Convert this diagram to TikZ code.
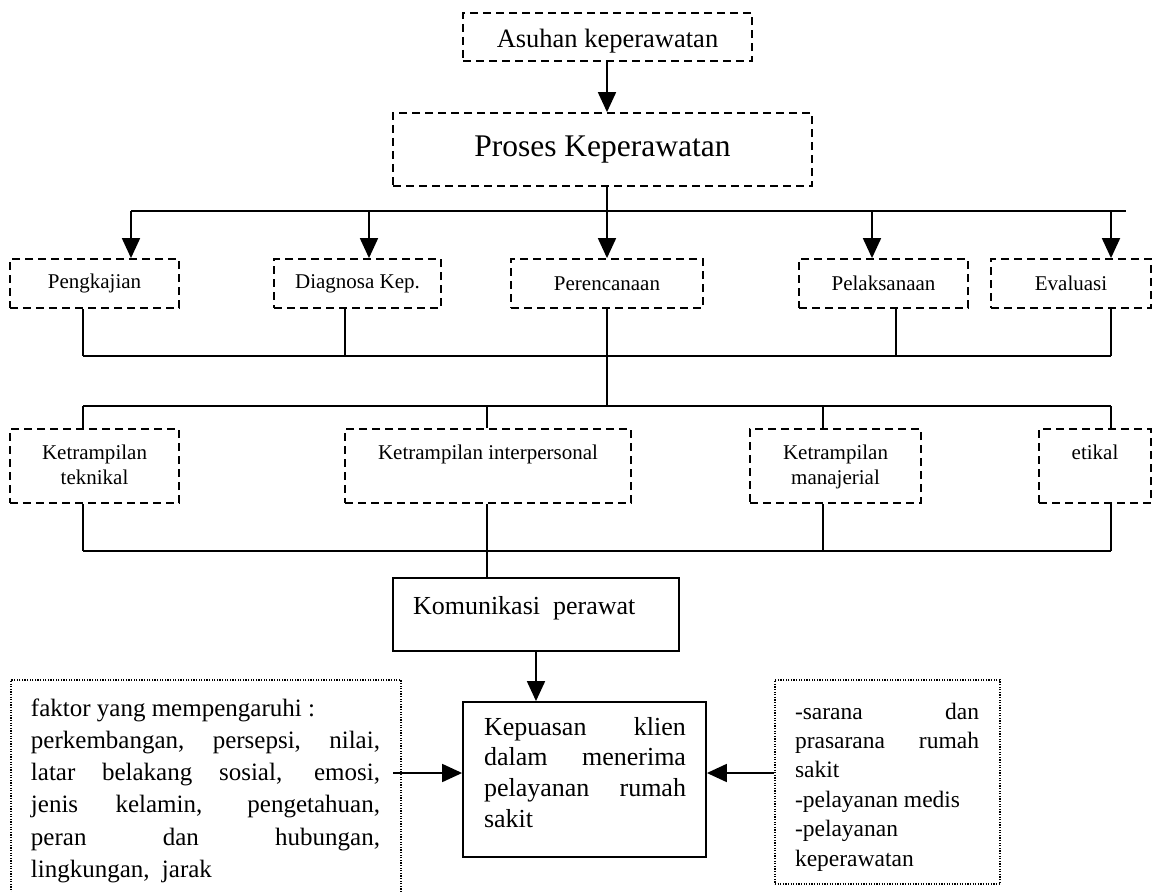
\documentclass[tikz,border=0pt]{standalone}
\usepackage{fontspec}
\setmainfont{Liberation Serif}
\usetikzlibrary{arrows.meta}
\newcommand{\inbox}[5]{\begin{minipage}[c][#2][t]{#1}\setlength{\leftskip}{#3}\rule{0pt}{#4}#5\end{minipage}}
\newcommand{\topc}[4]{\begin{minipage}[c][#2][t]{#1}\centering\rule{0pt}{#3}#4\end{minipage}}
\begin{document}
\begin{tikzpicture}[x=1bp,y=-1bp,
  ln/.style={line width=1.8bp},
  arr/.style={line width=1.8bp,-{Triangle[length=20bp,width=18bp]}},
  dbox/.style={draw,line width=1.8bp,dash pattern=on 8bp off 5bp,inner sep=0pt},
  sbox/.style={draw,line width=1.8bp,inner sep=0pt},
  obox/.style={draw,line width=1.3bp,dash pattern=on 1.2bp off 1.4bp,inner sep=0pt},
  rowf/.style={font=\fontsize{21bp}{25bp}\selectfont},
]
\fill[white] (0,0) rectangle (1155,892);
\clip (0,0) rectangle (1155,892);

% top boxes
\node[dbox,minimum width=289bp,minimum height=48bp,text height=26bp,text depth=6bp,font=\fontsize{26.5bp}{30bp}\selectfont] (asu) at (607.5,37) {Asuhan keperawatan};
\node[dbox,minimum width=419bp,minimum height=73bp,font=\fontsize{31.5bp}{36bp}\selectfont] (pro) at (602.5,149.5) {Proses Keperawatan};

% row 1
\node[dbox,rowf,minimum width=169bp,minimum height=49bp] (pen) at (94.5,283.5) {Pengkajian};
\node[dbox,rowf,minimum width=167bp,minimum height=49bp] (dia) at (357.5,283.5) {Diagnosa Kep.};
\node[dbox,rowf,minimum width=192bp,minimum height=49bp] (per) at (607,283.5) {Perencanaan};
\node[dbox,rowf,minimum width=169bp,minimum height=49bp] (pel) at (883.5,283.5) {Pelaksanaan};
\node[dbox,rowf,minimum width=160bp,minimum height=49bp] (eva) at (1071,283.5) {Evaluasi};

% row 2
\node[dbox,rowf] (tek) at (94.5,466) {\topc{169bp}{74bp}{30bp}{Ketrampilan\\teknikal}};
\node[dbox,rowf] (int) at (488,466) {\topc{286bp}{74bp}{30bp}{Ketrampilan interpersonal}};
\node[dbox,rowf] (man) at (835.5,466) {\topc{171bp}{74bp}{30bp}{Ketrampilan\\manajerial}};
\node[dbox,rowf] (eti) at (1095,466) {\topc{112bp}{74bp}{30bp}{etikal}};

% bottom boxes
\node[sbox,font=\fontsize{26bp}{30bp}\selectfont] (kom) at (536,614.5)
  {\inbox{286bp}{73bp}{20bp}{36bp}{Komunikasi\ \ perawat}};
\node[sbox,font=\fontsize{26bp}{30.7bp}\selectfont] (kep) at (584.5,779.5)
  {\inbox{243bp}{155bp}{21bp}{33bp}{\makebox[202bp][s]{Kepuasan klien}\\
   \makebox[202bp][s]{dalam menerima}\\
   \makebox[202bp][s]{pelayanan rumah}\\
   sakit}};
\node[obox,font=\fontsize{25bp}{32.3bp}\selectfont] (fak) at (206,790)
  {\inbox{390bp}{220bp}{20bp}{36bp}{faktor yang mempengaruhi :\\
   \makebox[349bp][s]{perkembangan, persepsi, nilai,}\\
   \makebox[349bp][s]{latar belakang sosial, emosi,}\\
   \makebox[349bp][s]{jenis kelamin, pengetahuan,}\\
   \makebox[349bp][s]{peran dan hubungan,}\\
   lingkungan,\hspace{6bp} jarak}};
\node[obox,font=\fontsize{23.5bp}{29.4bp}\selectfont] (sar) at (887.5,782)
  {\inbox{225bp}{204bp}{20bp}{39bp}{\makebox[184bp][s]{-sarana dan}\\
   \makebox[184bp][s]{prasarana rumah}\\
   sakit\\
   -pelayanan medis\\
   -pelayanan\\
   keperawatan}};

% coordinates of connector lines
\coordinate (t1) at (131,211); \coordinate (t2) at (369,211);
\coordinate (t3) at (607,211); \coordinate (t4) at (872,211);
\coordinate (t5) at (1111,211); \coordinate (tR) at (1126,211);
\coordinate (b1) at (83,356); \coordinate (b2) at (345,356);
\coordinate (b3) at (607,356); \coordinate (b4) at (896,356);
\coordinate (b5) at (1111,356);
\coordinate (c0) at (607,406);
\coordinate (c1) at (83,406); \coordinate (c2) at (487,406);
\coordinate (c3) at (823,406); \coordinate (c4) at (1111,406);
\coordinate (d1) at (83,551); \coordinate (d2) at (487,551);
\coordinate (d3) at (823,551); \coordinate (d4) at (1111,551);
\coordinate (la) at (393,773);

% connectors
\draw[arr] (asu.south -| t3) -- (pro.north -| t3);
\draw[ln] (pro.south -| t3) -- (t3);
\draw[ln] (t1) -- (tR);
\foreach \i/\n in {1/pen,2/dia,3/per,4/pel,5/eva}{
  \draw[arr] (t\i) -- (t\i |- \n.north);
  \draw[ln] (b\i |- \n.south) -- (b\i);
}
\draw[ln] (b1) -- (b5);
\draw[ln] (b3) -- (c0);
\draw[ln] (c1) -- (c4);
\foreach \i/\n in {1/tek,2/int,3/man,4/eti}{
  \draw[ln] (c\i) -- (c\i |- \n.north);
  \draw[ln] (d\i |- \n.south) -- (d\i);
}
\draw[ln] (d1) -- (d4);
\draw[ln] (d2) -- (d2 |- kom.north);
\draw[arr] (kom.south) -- (kom.south |- kep.north);
\draw[arr] (la) -- (la -| kep.west);
\draw[arr] (sar.west |- la) -- (la -| kep.east);
\end{tikzpicture}
\end{document}
